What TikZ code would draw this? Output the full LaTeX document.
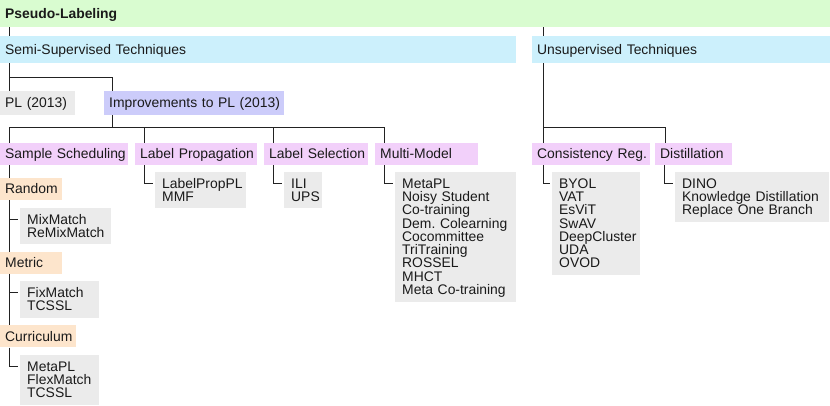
\documentclass[tikz,border=0pt]{standalone}
\usepackage{fontspec}
\setmainfont{Liberation Sans}
\usepackage{xcolor}
\usepackage{tikz}
\usetikzlibrary{positioning}

\definecolor{rootgreen}{HTML}{D9FCD0}
\definecolor{barblue}{HTML}{CCF0FC}
\definecolor{imprblue}{HTML}{CCCCFA}
\definecolor{catpink}{HTML}{F2D0FA}
\definecolor{schedpeach}{HTML}{FDE5CC}
\definecolor{leafgray}{HTML}{EBEBEB}
\definecolor{ink}{HTML}{1A1A1A}
\definecolor{wire}{HTML}{222222}

\newcommand{\mainsize}{\fontsize{13.9}{13.3}\selectfont\hyphenpenalty=10000\exhyphenpenalty=10000\relax}
\newcommand{\topstrut}{\rule{0pt}{13pt}}
\newcommand{\botstrut}{\rule[-3.5pt]{0pt}{3.5pt}}

\begin{document}
\begin{tikzpicture}[
  x=1pt, y=-1pt,
  box/.style={anchor=north west, align=left, inner ysep=0pt, text=ink,
              font=\mainsize, execute at begin node=\topstrut,
              execute at end node=\botstrut},
  bar/.style={box, fill=barblue, inner xsep=5pt, minimum height=27pt},
  rootbar/.style={bar, fill=rootgreen, font=\mainsize\bfseries},
  pick/.style={box, fill=leafgray, inner xsep=5pt, minimum height=24pt},
  cat/.style={box, fill=catpink, inner xsep=5pt, minimum height=22pt},
  sched/.style={cat, fill=schedpeach},
  leaf/.style={box, fill=leafgray, inner xsep=7pt, inner ysep=3.5pt},
  edge/.style={draw=wire, line width=1pt},
]
\useasboundingbox (0,0) rectangle (830,405);

% ---------------- top bars ----------------
\node[rootbar, text width=820pt] (root) at (0,0) {Pseudo-Labeling};
\node[bar, text width=506pt] (semi) at (0,36) {Semi-Supervised Techniques};
\node[bar, text width=288pt] (unsup) at (532,36) {Unsupervised Techniques};

\node[pick, text width=65pt] (pl) at (0,91) {PL (2013)};
\node[pick, fill=imprblue, text width=170pt] (impr) at (104,91)
  {Improvements~to~PL~(2013)};

% ---------------- categories ----------------
\node[cat, text width=118pt] (samp) at (0,143) {Sample~Scheduling};
\node[cat, text width=112pt] (prop) at (135,143) {Label~Propagation};
\node[cat, text width=94pt] (sel) at (264,143) {Label~Selection};
\node[cat, text width=93pt] (multi) at (375,143) {Multi-Model};
\node[cat, text width=108pt] (cons) at (532,143) {Consistency~Reg.};
\node[cat, text width=67pt] (dist) at (655,143) {Distillation};

% ---------------- method lists ----------------
\node[leaf, text width=77pt] (propL) at ([xshift=20pt,yshift=-6pt]prop.south west)
  {LabelPropPL\\ MMF};
\node[leaf, text width=24pt] (selL) at ([xshift=20pt,yshift=-6pt]sel.south west)
  {ILI\\ UPS};
\node[leaf, text width=107pt] (multiL) at ([xshift=20pt,yshift=-6pt]multi.south west)
  {MetaPL\\ Noisy~Student\\ Co-training\\ Dem.\ Colearning\\ Cocommittee\\
   TriTraining\\ ROSSEL\\ MHCT\\ Meta~Co-training};
\node[leaf, text width=74pt] (consL) at ([xshift=20pt,yshift=-6pt]cons.south west)
  {BYOL\\ VAT\\ EsViT\\ SwAV\\ DeepCluster\\ UDA\\ OVOD};
\node[leaf, text width=140pt] (distL) at ([xshift=20pt,yshift=-6pt]dist.south west)
  {DINO\\ Knowledge~Distillation\\ Replace~One~Branch};

% sample scheduling chain
\node[sched, text width=52pt] (rand) at ([yshift=-12.5pt]samp.south west) {Random};
\node[leaf, text width=77pt] (randL) at ([xshift=20pt,yshift=-7pt]rand.south west)
  {MixMatch\\ ReMixMatch};
\node[sched, text width=52pt] (metric) at ([yshift=-7pt]randL.south -| rand.west) {Metric};
\node[leaf, text width=65pt] (metricL) at ([xshift=20pt,yshift=-7pt]metric.south west)
  {FixMatch\\ TCSSL};
\node[sched, text width=66pt] (curr) at ([yshift=-7pt]metricL.south -| metric.west) {Curriculum};
\node[leaf, text width=65pt] (currL) at ([xshift=20pt,yshift=-7pt]curr.south west)
  {MetaPL\\ FlexMatch\\ TCSSL};

% ---------------- connectors ----------------
\coordinate (ujoin) at ([xshift=11pt]unsup.north west);
\coordinate (udown) at ([xshift=11pt]unsup.south west);
\coordinate (ibus) at ([xshift=8pt,yshift=-12pt]impr.south west);

\draw[edge] ([xshift=9pt]root.south west) -- ([xshift=9pt]semi.north west);
\draw[edge] (ujoin |- root.south) -- (ujoin);

\draw[edge] ([xshift=9pt]semi.south west) -- ([xshift=9pt]pl.north west);
\draw[edge] ([xshift=9pt]semi.south west) -- ++(0,14) -| ([xshift=8pt]impr.north west);

\foreach \c in {samp,prop,sel,multi}
  \draw[edge] ([xshift=8pt]impr.south west) -- (ibus) -| ([xshift=9pt]\c.north west);

\draw[edge] (udown) -- ([xshift=11pt]cons.north west);
\draw[edge] (udown |- ibus) -| ([xshift=10pt]dist.north west);

\foreach \p/\q in {prop/propL, sel/selL, multi/multiL, dist/distL}
  \draw[edge] ([xshift=9pt]\p.south west) |- ([xshift=-2pt,yshift=-12pt]\q.north west);
\draw[edge] ([xshift=11pt]cons.south west) |- ([xshift=-2pt,yshift=-12pt]consL.north west);

\draw[edge] ([xshift=9pt]samp.south west) -- ([xshift=9pt]rand.north west);
\foreach \p/\q/\n in {rand/randL/metric, metric/metricL/curr} {
  \draw[edge] ([xshift=9pt]\p.south west) -- ([xshift=9pt]\n.north west);
  \draw[edge] ([xshift=9pt]\p.south west) |- ([xshift=-2pt,yshift=-12pt]\q.north west);
}
\draw[edge] ([xshift=9pt]curr.south west) |- ([xshift=-2pt,yshift=-12pt]currL.north west);
\end{tikzpicture}
\end{document}
